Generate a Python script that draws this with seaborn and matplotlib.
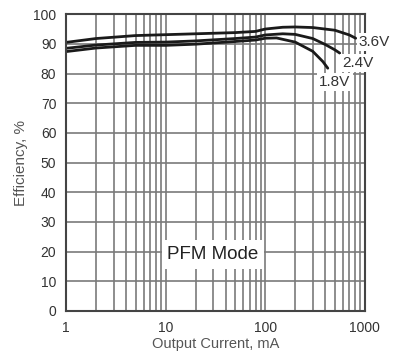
import numpy as np
import pandas as pd
import matplotlib
matplotlib.use("Agg")
import matplotlib.pyplot as plt
import seaborn as sns
from matplotlib.ticker import LogLocator, FixedLocator

# Efficiency curves (current in mA, efficiency in %)
i_36 = [1, 2, 5, 10, 20, 50, 80, 100, 150, 200, 300, 500, 700, 810]
eff_36 = [90.5, 91.8, 92.8, 93.1, 93.4, 93.8, 94.2, 95.0, 95.6, 95.7, 95.5, 94.6, 93.0, 91.9]

i_24 = [1, 2, 5, 10, 20, 50, 80, 100, 150, 200, 300, 400, 500, 560]
eff_24 = [88.5, 89.6, 90.5, 90.6, 91.0, 91.8, 92.3, 93.0, 93.4, 93.2, 91.8, 89.8, 88.0, 86.9]

i_18 = [1, 2, 5, 10, 20, 50, 80, 100, 130, 200, 300, 380, 425]
eff_18 = [87.4, 88.6, 89.5, 89.5, 89.9, 90.8, 91.3, 91.9, 92.0, 90.6, 87.5, 84.0, 81.8]

labels = ["3.6V", "2.4V", "1.8V"]
label_pos = [(1250, 90.6), (850, 83.5), (500, 77.1)]

df = pd.concat([
    pd.DataFrame({"current": i_36, "eff": eff_36, "vin": "3.6V"}),
    pd.DataFrame({"current": i_24, "eff": eff_24, "vin": "2.4V"}),
    pd.DataFrame({"current": i_18, "eff": eff_18, "vin": "1.8V"}),
])

sns.set_style("white")
plt.rcParams["font.family"] = ["Liberation Sans", "DejaVu Sans"]

fig, ax = plt.subplots(figsize=(4.0, 3.55), dpi=100)
fig.subplots_adjust(left=0.165, right=0.912, top=0.96, bottom=0.124)
ax.set_facecolor("white")

ax.set_xscale("log")
ax.set_xlim(1, 1000)
ax.set_ylim(0, 100)
ax.yaxis.set_major_locator(FixedLocator(np.arange(0, 101, 10)))
ax.xaxis.set_major_locator(LogLocator(base=10))
ax.xaxis.set_minor_locator(LogLocator(base=10, subs=np.arange(2, 10)))
ax.set_xticks([1, 10, 100, 1000])
ax.set_xticklabels(["1", "10", "100", "1000"])
ax.tick_params(axis="x", which="minor", length=0)
ax.tick_params(axis="both", which="major", length=0, labelsize=10, pad=7,
               labelcolor="#333333")

ax.grid(True, which="major", color="#7a7a7a", linewidth=1.2)
ax.grid(True, which="minor", axis="x", color="#7a7a7a", linewidth=1.2)
ax.set_axisbelow(True)
for s in ax.spines.values():
    s.set_color("#444444")
    s.set_linewidth(1.5)

sns.lineplot(data=df, x="current", y="eff", hue="vin", palette=["#1a1a1a"] * 3,
             linewidth=2.0, legend=False, ax=ax, sort=False)

for lab, (x, y) in zip(labels, label_pos):
    ax.text(x, y, lab, fontsize=11, ha="center", va="center", color="#333333",
            bbox=dict(facecolor="white", edgecolor="none", pad=1.5), clip_on=False)

ax.text(30, 19, "PFM Mode", fontsize=13.5, ha="center", va="center", color="#222222",
        bbox=dict(facecolor="white", edgecolor="none", pad=4))

ax.set_xlabel("Output Current, mA", fontsize=10.5, color="#555555", labelpad=2)
ax.set_ylabel("Efficiency, %", fontsize=11, color="#555555", labelpad=4)

fig.savefig("out.png", dpi=100)
